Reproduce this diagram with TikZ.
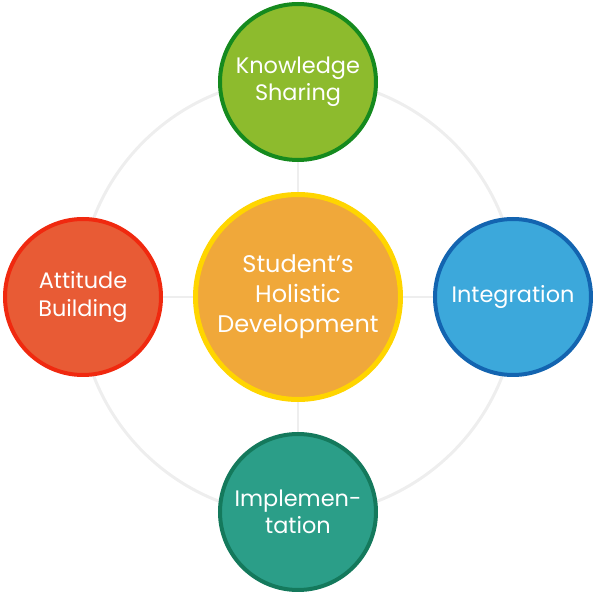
\documentclass[tikz,border=0pt]{standalone}
\usepackage{fontspec}
\setmainfont{Poppins}
\usetikzlibrary{backgrounds,positioning}
\definecolor{hubfill}{HTML}{F0A83A}
\definecolor{hubdraw}{HTML}{FFD500}
\definecolor{knowfill}{HTML}{8DBB2D}
\definecolor{knowdraw}{HTML}{158A1E}
\definecolor{attifill}{HTML}{E85B35}
\definecolor{attidraw}{HTML}{F0290F}
\definecolor{integfill}{HTML}{3CA8DB}
\definecolor{integdraw}{HTML}{1364B0}
\definecolor{implfill}{HTML}{2B9E88}
\definecolor{impldraw}{HTML}{14795C}
\definecolor{ringgrey}{HTML}{EEEEEE}
\tikzset{
    cycle diagram/.style = {node distance=22.5pt},
    hub/.style      = {circle, draw=hubdraw, fill=hubfill, line width=3.75pt,
                       minimum size=153.75pt, inner sep=0pt,
                       text=white, align=center,
                       font=\fontsize{18}{22.5}\selectfont},
    spoke/.style    = {circle, line width=3pt, minimum size=117pt,
                       inner sep=0pt, text=white, align=center,
                       font=\fontsize{16.8}{20.5}\selectfont},
    ring/.style     = {draw=ringgrey, line width=2.25pt},
    link/.style     = {draw=ringgrey, line width=1.6pt}
}
\begin{document}
\begin{tikzpicture}[cycle diagram]
\useasboundingbox (-223.5pt,-221.25pt) rectangle (222pt,222.75pt);

\node[hub] (hub) at (0,0) {Student’s\\Holistic\\Development};

\node[spoke, draw=knowdraw, fill=knowfill, above=of hub] (know)
    {Knowledge\\Sharing};
\node[spoke, draw=attidraw, fill=attifill, left=of hub] (attit)
    {Attitude\\Building};
\node[spoke, draw=integdraw, fill=integfill, right=of hub] (integ)
    {Integration};
\node[spoke, draw=impldraw, fill=implfill, below=of hub] (impl)
    {Implemen-\\tation};

\begin{scope}[on background layer]
    \draw[ring] (hub.center) circle[radius=164.25pt];
    \foreach \n in {know,attit,integ,impl}
        \draw[link] (hub) -- (\n);
\end{scope}

\end{tikzpicture}
\end{document}
